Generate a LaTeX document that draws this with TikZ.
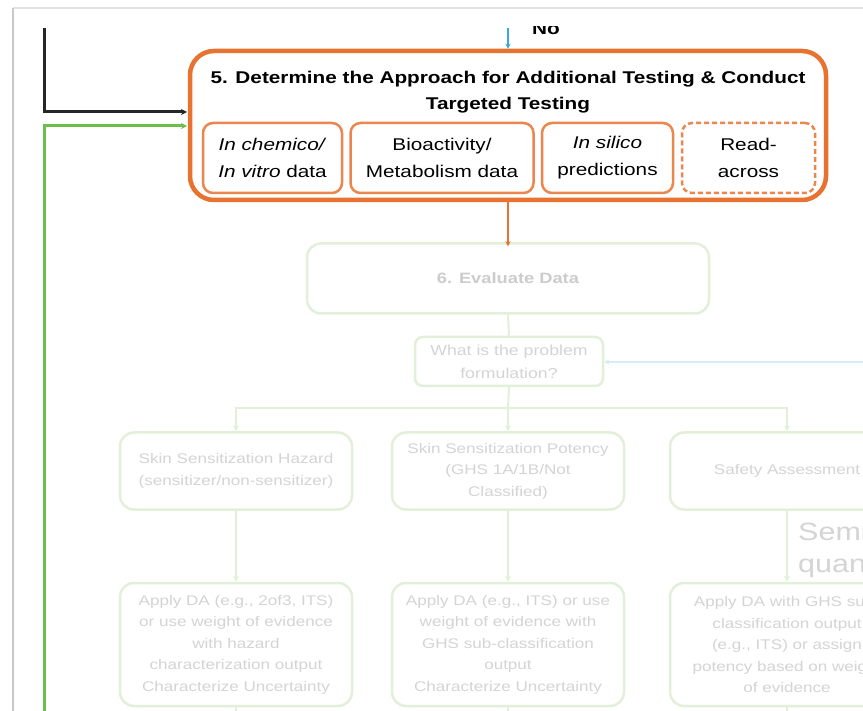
\documentclass[tikz,border=0pt]{standalone}
\usepackage{fontspec}
\setmainfont{Liberation Sans}[FakeStretch=1.22]
\usetikzlibrary{arrows.meta}

\definecolor{orangeA}{HTML}{E8722F}
\definecolor{fadegreen}{HTML}{E2F0DA}
\definecolor{fadetext}{HTML}{D4D4D4}
\definecolor{greenline}{HTML}{6CBF4A}
\definecolor{blueline}{HTML}{3FA6DA}
\definecolor{fadeblue}{HTML}{D8ECF7}
\definecolor{frameA}{HTML}{C8C8C8}
\definecolor{frameB}{HTML}{E2E2E2}

\tikzset{
  tip/.style={-{Stealth[length=6pt,width=6pt]}},
  outerbox/.style={draw=orangeA, line width=4.5pt, rounded corners=24pt,
    minimum width=636pt, minimum height=149pt, inner sep=0pt},
  subbox/.style={draw=orangeA!85, line width=2.5pt, rounded corners=10pt,
    minimum height=70pt, inner sep=0pt, align=center,
    font=\fontsize{17}{27}\selectfont},
  titletext/.style={align=center, inner sep=0pt,
    font=\fontsize{17}{26}\selectfont\bfseries},
  fadebox/.style={draw=fadegreen, line width=2.5pt, rounded corners=14pt,
    inner sep=0pt, align=center, text=fadetext,
    font=\fontsize{14}{21.5}\selectfont},
  fadeline/.style={draw=fadegreen, line width=2pt},
}

\begin{document}
\begin{tikzpicture}[x=1pt,y=-1pt]
  \useasboundingbox (0,0) rectangle (863,711);
  \clip (0,0) rectangle (863,711);
  \fill[white] (0,0) rectangle (863,711);

  % window frame
  \draw[frameB, line width=1.5pt] (13,8) -- (863,8);
  \draw[frameA, line width=2pt] (13,8) -- (13,711);

  % step 5 box and its parts
  \node[outerbox] (step5) at (508,125.5) {};
  \node[titletext] (title) at (508,92)
    {5. Determine the Approach for Additional Testing \& Conduct\\Targeted Testing};
  \node[subbox, minimum width=139pt] (chem) at (272.5,158)
    {\textit{In chemico/}\\\textit{In vitro} data};
  \node[subbox, minimum width=183pt] (bio) at (442,158)
    {Bioactivity/\\Metabolism data};
  \node[subbox, minimum width=131pt] (sil) at (607.5,158)
    {\textit{In silico}\\predictions};
  \node[subbox, dashed, dash pattern=on 5pt off 3pt, minimum width=133pt] (read) at (748.5,158)
    {Read-\\across};

  % incoming "No" branch from above
  \coordinate (noin) at (508,28);
  \draw[blueline, line width=2pt, -{Stealth[length=5pt,width=5pt]}] (noin) -- (step5.north -| noin);
  \begin{scope}
    \clip (515,27) rectangle (580,40);
    \node[anchor=base, inner sep=0pt, font=\fontsize{17}{20}\selectfont\bfseries] (nolabel) at (546,35) {No};
  \end{scope}

  % loops coming back from the left
  \coordinate (blk) at (44,28);
  \coordinate (blkin) at (187,112);
  \draw[black!85, line width=3pt, tip] (blk) |- (blkin);
  \coordinate (grn) at (44,711);
  \coordinate (grnin) at (187,126);
  \draw[greenline, line width=3pt, tip] (grn) |- (grnin);

  % faded lower part of the flow
  \node[fadebox, minimum width=402pt, minimum height=70pt,
        font=\fontsize{15}{18}\selectfont\bfseries, text=black!20] (eval) at (508,278.5)
    {6. Evaluate Data};
  \draw[orangeA, line width=2pt, -{Stealth[length=5pt,width=5pt]}] (step5.south) -- ([yshift=-4pt]eval.north);

  \node[fadebox, rounded corners=8pt, minimum width=188pt, minimum height=49pt,
        font=\fontsize{14.5}{23}\selectfont] (prob) at (509,361.5)
    {What is the problem\\formulation?};
  \draw[fadeline] (eval.south) -- (prob.north);
  \coordinate (probin) at (863,362);
  \draw[fadeblue, line width=2pt, -{Stealth[length=5pt,width=5pt]}] (probin) -- (prob.east |- probin);

  \node[fadebox, minimum width=232pt, minimum height=77pt] (haz) at (236,471)
    {Skin Sensitization Hazard\\(sensitizer/non-sensitizer)};
  \node[fadebox, minimum width=232pt, minimum height=77pt] (pot) at (508,471)
    {Skin Sensitization Potency\\(GHS 1A/1B/Not\\Classified)};
  \node[fadebox, minimum width=234pt, minimum height=77pt] (safe) at (787,471)
    {Safety Assessment};

  \coordinate (split) at (508,408);
  \draw[fadeline] (prob.south) -- (split);
  \draw[fadeline, tip] (split) -| (haz.north);
  \draw[fadeline, tip] (split) -- (pot.north);
  \draw[fadeline, tip] (split) -| (safe.north);

  \node[anchor=base west, inner sep=0pt, text=fadetext,
        font=\fontsize{25}{32}\selectfont] (semi) at (798,540) {Semi-};
  \node[anchor=base west, inner sep=0pt, text=fadetext,
        font=\fontsize{25}{32}\selectfont] (quant) at (798,572) {quant};

  \node[fadebox, minimum width=232pt, minimum height=123pt] (hazda) at (236,644.5)
    {Apply DA (e.g., 2of3, ITS)\\or use weight of evidence\\with hazard\\characterization output\\Characterize Uncertainty};
  \node[fadebox, minimum width=232pt, minimum height=123pt] (potda) at (508,644.5)
    {Apply DA (e.g., ITS) or use\\weight of evidence with\\GHS sub-classification\\output\\Characterize Uncertainty};
  \node[fadebox, minimum width=234pt, minimum height=123pt] (safeda) at (787,644.5)
    {Apply DA with GHS sub-\\classification output\\(e.g., ITS) or assign\\potency based on weight\\of evidence};

  \draw[fadeline, tip] (haz.south) -- (hazda.north);
  \draw[fadeline, tip] (pot.south) -- (potda.north);
  \draw[fadeline, tip] (safe.south) -- (safeda.north);

  % lines continuing below
  \coordinate (d1) at (236,720);
  \coordinate (d2) at (508,720);
  \coordinate (d3) at (787,720);
  \draw[fadeline] (hazda.south) -- (d1);
  \draw[fadeline] (potda.south) -- (d2);
  \draw[fadeline] (safeda.south) -- (d3);
\end{tikzpicture}
\end{document}
